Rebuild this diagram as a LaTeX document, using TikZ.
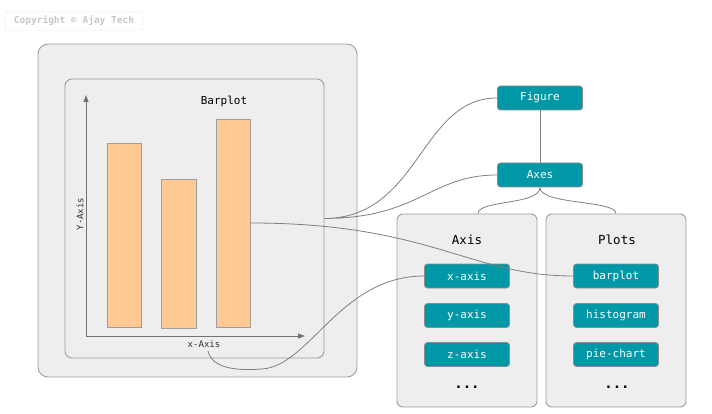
\documentclass[tikz,border=0pt]{standalone}
\usepackage{fontspec}
\setmonofont{DejaVu Sans Mono}
\usepackage{xcolor}
\usetikzlibrary{arrows.meta}
\definecolor{panelgray}{HTML}{EEEEEE}
\definecolor{edgegray}{HTML}{9E9E9E}
\definecolor{wiregray}{HTML}{7F7F7F}
\definecolor{tagteal}{HTML}{0097A7}
\definecolor{barpeach}{HTML}{FFC995}

\begin{document}
\begin{tikzpicture}[x=1pt, y=-1pt, font=\ttfamily,
    panelbox/.style={draw=edgegray, fill=panelgray, line width=0.9pt, inner sep=0pt},
    bar/.style={draw=edgegray, fill=barpeach, line width=0.9pt, inner sep=0pt},
    tag/.style={draw=black!45, fill=tagteal, text=white, rounded corners=3pt,
      line width=0.8pt, minimum width=85pt, minimum height=24pt, inner sep=0pt,
      font=\ttfamily\fontsize{11}{13}\selectfont},
    wire/.style={draw=wiregray, line width=0.8pt},
    axisline/.style={draw=black!55, line width=0.8pt, -{Triangle[length=7pt,width=5pt]}}]
  \useasboundingbox (0,0) rectangle (712,414);
  \node[draw=black!12, rounded corners=2pt, text=black!22, minimum width=138pt,
    minimum height=18pt, inner sep=0pt, font=\ttfamily\bfseries\fontsize{9.5}{10}\selectfont]
    (copyright) at (74,21) {Copyright © Ajay Tech};
  \node[panelbox, rounded corners=10pt, minimum width=319pt, minimum height=333pt]
    (outer) at (197.5,210.5) {};
  \node[panelbox, rounded corners=7pt, minimum width=259pt, minimum height=279pt]
    (inner) at (194.5,218.5) {};
  \coordinate (O) at (86,336);
  \draw[axisline] (O) -- (86,95) coordinate (y axis);
  \draw[axisline] (O) -- (305,336) coordinate (x axis);
  \node[bar, minimum width=34pt, minimum height=184pt] (bar1) at (124,235) {};
  \node[bar, minimum width=35pt, minimum height=149pt] (bar2) at (178.5,253.5) {};
  \node[bar, minimum width=34pt, minimum height=208pt] (bar3) at (233,223) {};
  \node[font=\ttfamily\fontsize{11}{13}\selectfont] (title) at (224,101) {Barplot};
  \node[rotate=90, text=black!80, font=\ttfamily\fontsize{9}{10}\selectfont]
    (ylab) at (80,214) {Y-Axis};
  \node[text=black!80, font=\ttfamily\fontsize{9}{10}\selectfont]
    (xlab) at (204,344) {x-Axis};
  \node[tag] (fig) at (540,98) {Figure};
  \node[tag] (axes) at (540,175) {Axes};
  \node[panelbox, rounded corners=6pt, minimum width=140pt, minimum height=193pt]
    (axisbox) at (467,310.5) {};
  \node[panelbox, rounded corners=6pt, minimum width=140pt, minimum height=193pt]
    (plotbox) at (616,310.5) {};
  \node[font=\ttfamily\fontsize{12.5}{14}\selectfont] (axistitle) at (467,240) {Axis};
  \node[font=\ttfamily\fontsize{12.5}{14}\selectfont] (plottitle) at (617,240) {Plots};
  \node[tag] (xaxis) at (467,276) {x-axis};
  \node[tag] (yaxis) at (467,315.5) {y-axis};
  \node[tag] (zaxis) at (467,354.5) {z-axis};
  \node[tag] (barplot) at (616,276) {barplot};
  \node[tag] (histogram) at (616,315.5) {histogram};
  \node[tag] (piechart) at (616,354.5) {pie-chart};
  \node[font=\ttfamily\bfseries\fontsize{14}{16}\selectfont] (axisdots) at (467,387) {...};
  \node[font=\ttfamily\bfseries\fontsize{14}{16}\selectfont] (plotdots) at (617,387) {...};
  \draw[wire]
    (inner.east) .. controls (420,218) and (420,98) .. (fig.west)
    (inner.east) .. controls (420,218) and (430,175) .. (axes.west)
  ;
  \draw[wire] (fig) -- (axes);
  \draw[wire]
    (axes.south) .. controls (540,205) and (478,200) .. ([xshift=11pt]axisbox.north)
    (axes.south) .. controls (540,205) and (616,200) .. (plotbox.north)
  ;
  \draw[wire] (bar3.east) .. controls (430,223) and (470,276) .. (barplot.west);
  \draw[wire]
    ([xshift=4pt]xlab.south) .. controls (212,368) and (235,371) .. (262,369)
    .. controls (310,366) and (340,276) .. (xaxis.west)
  ;
\end{tikzpicture}
\end{document}
